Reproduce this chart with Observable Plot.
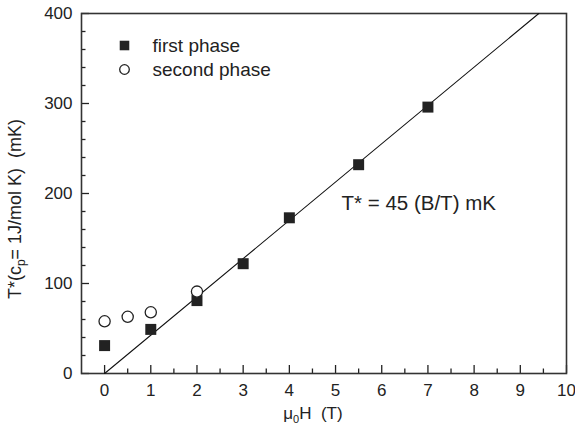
<!DOCTYPE html>
<html>
<head>
<meta charset="utf-8">
<script src="https://cdn.jsdelivr.net/npm/d3@7"></script>
<script src="https://cdn.jsdelivr.net/npm/@observablehq/plot@0.6"></script>
<style>
  html, body { margin: 0; padding: 0; background: #fff; }
  svg { font-family: "Liberation Sans", Arial, sans-serif; }
</style>
</head>
<body>
<div id="chart"></div>
<script>
// Data
const firstX = [0, 1, 2, 3, 4, 5.5, 7];
const firstY = [31, 49, 81, 122, 173, 232, 296];
const secondX = [0, 0.5, 1, 2];
const secondY = [58, 63, 68, 91];
const fitX = [0, 9.4];
const fitY = [0, 400];
const xMajor = [0, 1, 2, 3, 4, 5, 6, 7, 8, 9, 10];
const xMinor = [0.5, 1.5, 2.5, 3.5, 4.5, 5.5, 6.5, 7.5, 8.5, 9.5];
const yMajor = [0, 100, 200, 300, 400];
const yMinor = [20, 40, 60, 80, 120, 140, 160, 180, 220, 240, 260, 280, 320, 340, 360, 380];
const legendLabels = ["first phase", "second phase"];
const annotation = {x: 5.13, y: 189, text: "T* = 45 (B/T) mK"};

const first = firstX.map((x, i) => ({x, y: firstY[i]}));
const second = secondX.map((x, i) => ({x, y: secondY[i]}));
const fit = fitX.map((x, i) => ({x, y: fitY[i]}));

const ink = "#222";
const fs = 17;

const plot = Plot.plot({
  width: 575,
  height: 433,
  marginLeft: 81,
  marginRight: 9,
  marginTop: 13,
  marginBottom: 60,
  style: {fontFamily: "Liberation Sans, Arial, sans-serif", fontSize: fs + "px", color: ink, background: "#fff"},
  x: {domain: [-0.5, 10]},
  y: {domain: [0, 400]},
  marks: [
    Plot.axisX(xMajor, {tickSize: -8, tickPadding: 18, fontSize: fs, stroke: ink, fill: ink, strokeWidth: 1.3, label: null}),
    Plot.axisX(xMinor, {tickSize: -4.5, tickFormat: () => "", stroke: ink, strokeWidth: 1.3, label: null}),
    Plot.axisY(yMajor, {tickSize: -8, tickPadding: 17, fontSize: fs, stroke: ink, fill: ink, strokeWidth: 1.3, label: null}),
    Plot.axisY(yMinor, {tickSize: -4.5, tickFormat: () => "", stroke: ink, strokeWidth: 1.3, label: null}),
    Plot.frame({stroke: "#333", strokeWidth: 1.6}),
    Plot.line(fit, {x: "x", y: "y", stroke: "#111", strokeWidth: 1.1}),
    Plot.dot(first, {x: "x", y: "y", symbol: "square", r: 6.2, fill: ink, stroke: "none"}),
    Plot.dot(second, {x: "x", y: "y", symbol: "circle", r: 5.6, fill: "white", stroke: ink, strokeWidth: 1.3}),
    Plot.text([annotation], {x: "x", y: "y", text: "text", textAnchor: "start", fontSize: 20.5, fill: ink}),
    // legend
    Plot.dot([legendLabels[0]], {frameAnchor: "top-left", dx: 43, dy: 32, symbol: "square", r: 5.4, fill: ink, stroke: "none"}),
    Plot.dot([legendLabels[1]], {frameAnchor: "top-left", dx: 43, dy: 56, symbol: "circle", r: 4.8, fill: "white", stroke: ink, strokeWidth: 1.3}),
    Plot.text([legendLabels[0]], {frameAnchor: "top-left", dx: 71, dy: 32, text: d => d, textAnchor: "start", lineAnchor: "middle", fontSize: 19, fill: ink}),
    Plot.text([legendLabels[1]], {frameAnchor: "top-left", dx: 71, dy: 56, text: d => d, textAnchor: "start", lineAnchor: "middle", fontSize: 19, fill: ink})
  ]
});

document.getElementById("chart").appendChild(plot);

// Axis titles with subscripts
const svg = d3.select(plot);
const xt = svg.append("text")
  .attr("x", 313).attr("y", 419)
  .attr("text-anchor", "middle")
  .attr("font-size", fs).attr("fill", ink)
  .style("white-space", "pre");
xt.append("tspan").text("\u03bc");
xt.append("tspan").attr("font-size", 11).attr("dy", 4).text("0");
xt.append("tspan").attr("dy", -4).text("H  (T)");

const yt = svg.append("text")
  .attr("transform", "translate(21,209) rotate(-90)")
  .attr("text-anchor", "middle")
  .attr("font-size", 18).attr("fill", ink)
  .style("white-space", "pre");
yt.append("tspan").text("T*(c");
yt.append("tspan").attr("font-size", 12).attr("dy", 4).text("p");
yt.append("tspan").attr("dy", -4).text("= 1J/mol K)  (mK)");
</script>
</body>
</html>
